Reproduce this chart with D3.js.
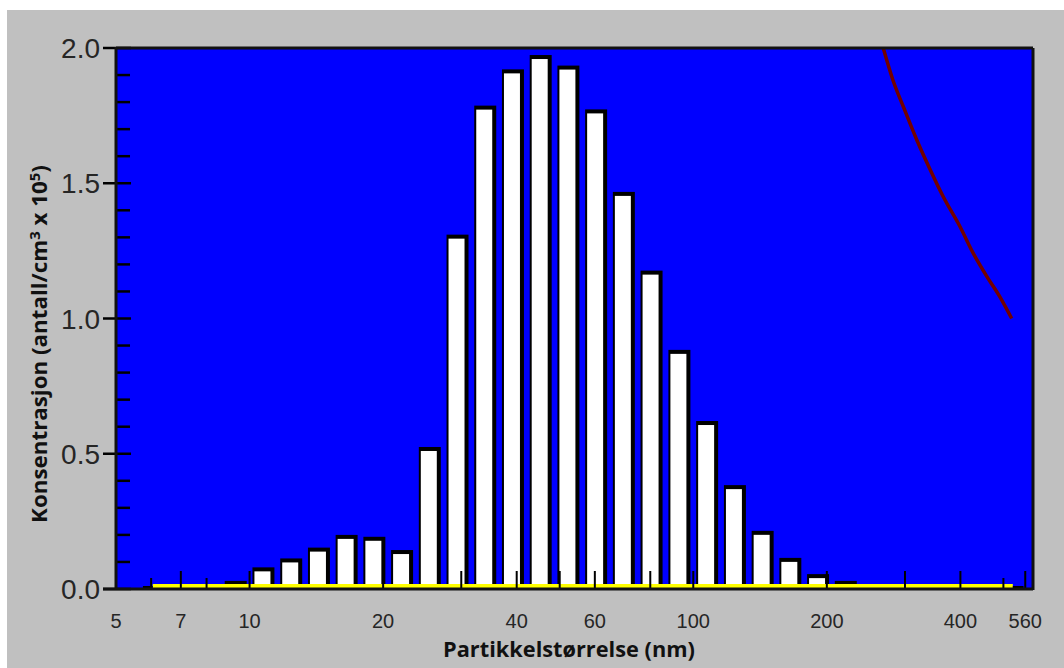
<!DOCTYPE html>
<html>
<head>
<meta charset="utf-8">
<script src="https://cdn.jsdelivr.net/npm/d3@7"></script>
<style>
  html, body { margin: 0; padding: 0; background: #ffffff; }
  svg { display: block; }
</style>
</head>
<body>
<svg id="chart" width="1064" height="668"></svg>
<script>
// Particle size distribution: bin centres (nm) and concentrations (antall/cm3 x 10^5)
const binCenters = [9.306, 10.746, 12.413, 14.334, 16.548, 19.110, 22.067, 25.481, 29.423,
  33.974, 39.230, 45.303, 52.311, 60.405, 69.751, 80.541, 93.057, 107.46, 124.13,
  143.34, 165.48, 191.10, 220.67];
const concentration = [0.03, 0.08, 0.113, 0.153, 0.20, 0.193, 0.144, 0.525, 1.31,
  1.787, 1.921, 1.974, 1.935, 1.773, 1.468, 1.177, 0.884, 0.621, 0.384,
  0.215, 0.115, 0.055, 0.03];

// Dark red reference curve (size nm, value)
const curveSize  = [268, 282, 298, 319, 342, 366, 399, 428, 459, 491, 522];
const curveValue = [2.00, 1.88, 1.78, 1.66, 1.55, 1.45, 1.34, 1.24, 1.155, 1.08, 1.00];

// Yellow baseline series and its dark end pieces
const baselineSize  = [6.05, 525];
const baselineValue = [0.011, 0.011];
const baselineEnds  = [[5.75, 6.05], [525, 555]];

// Axis ticks and labels
const xTicksLong  = [7, 10, 20, 30, 40, 50, 60, 80, 100, 200, 300, 400, 560];
const xTicksShort = [6, 8, 500];
const xLabels     = [5, 7, 10, 20, 40, 60, 100, 200, 400, 560];
const yMajor      = [0, 0.5, 1.0, 1.5, 2.0];
const yMinor      = [0.1, 0.2, 0.3, 0.4, 0.6, 0.7, 0.8, 0.9, 1.1, 1.2, 1.3, 1.4, 1.6, 1.7, 1.8, 1.9];

const xTitle = "Partikkelstørrelse (nm)";

const svg = d3.select("#chart");
const W = 1064, H = 668;
const plot = { left: 116, right: 1033, top: 48, bottom: 589 };

const x = d3.scaleLog().domain([5, 583]).range([plot.left, plot.right]);
const y = d3.scaleLinear().domain([0, 2]).range([plot.bottom, plot.top]);

// window background
svg.append("rect").attr("x", 7).attr("y", 10).attr("width", W - 7).attr("height", H - 10)
  .attr("fill", "#c0c0c0");

// plot area
svg.append("rect")
  .attr("x", plot.left).attr("y", plot.top)
  .attr("width", plot.right - plot.left).attr("height", plot.bottom - plot.top)
  .attr("fill", "#0000ff");

svg.append("clipPath").attr("id", "plotClip")
  .append("rect")
  .attr("x", plot.left).attr("y", plot.top)
  .attr("width", plot.right - plot.left).attr("height", plot.bottom - plot.top);

// bars: half-width expressed as a ratio on the log axis
const halfRatio = 1.0587;
const bars = svg.append("g").attr("clip-path", "url(#plotClip)");
binCenters.forEach((c, i) => {
  const v = concentration[i];
  const x0 = x(c / halfRatio), x1 = x(c * halfRatio);
  const yt = y(v), yb = y(0);
  bars.append("rect")
    .attr("x", x0).attr("y", yt).attr("width", x1 - x0).attr("height", yb - yt)
    .attr("fill", "#000000");
  const iw = (x1 - x0) - 6, ih = (yb - yt) - 4;
  if (iw > 0 && ih > 0) {
    bars.append("rect")
      .attr("x", x0 + 2).attr("y", yt + 4).attr("width", iw).attr("height", ih)
      .attr("fill", "#ffffff");
  }
});

// yellow baseline series
const baseLine = d3.line().x(d => x(d[0])).y(d => y(d[1]));
svg.append("path")
  .attr("d", baseLine(baselineSize.map((s, i) => [s, baselineValue[i]])))
  .attr("stroke", "#ffff00").attr("stroke-width", 4).attr("fill", "none");
baselineEnds.forEach(seg => {
  svg.append("line")
    .attr("x1", x(seg[0])).attr("x2", x(seg[1]))
    .attr("y1", y(0) - 1.5).attr("y2", y(0) - 1.5)
    .attr("stroke", "#000000").attr("stroke-width", 3);
});

// x ticks, pointing up into the plot
const xt = svg.append("g");
xTicksLong.forEach(v => {
  xt.append("line").attr("x1", x(v)).attr("x2", x(v))
    .attr("y1", plot.bottom).attr("y2", plot.bottom - 18)
    .attr("stroke", "#000").attr("stroke-width", 2);
});
xTicksShort.forEach(v => {
  xt.append("line").attr("x1", x(v)).attr("x2", x(v))
    .attr("y1", plot.bottom).attr("y2", plot.bottom - 11)
    .attr("stroke", "#000").attr("stroke-width", 2);
});

// dark red curve
const curveLine = d3.line().x(d => x(d[0])).y(d => y(d[1])).curve(d3.curveMonotoneX);
svg.append("path")
  .attr("clip-path", "url(#plotClip)")
  .attr("d", curveLine(curveSize.map((s, i) => [s, curveValue[i]])))
  .attr("stroke", "#720000").attr("stroke-width", 3.5).attr("fill", "none");

// y ticks
const yt = svg.append("g");
yMinor.forEach(v => {
  yt.append("line").attr("x1", plot.left).attr("x2", plot.left + 14)
    .attr("y1", y(v)).attr("y2", y(v))
    .attr("stroke", "#000").attr("stroke-width", 2.5);
});
yMajor.forEach(v => {
  yt.append("line").attr("x1", plot.left - 13).attr("x2", plot.left + 15)
    .attr("y1", y(v)).attr("y2", y(v))
    .attr("stroke", "#000").attr("stroke-width", 2.5);
});

// frame
const frame = svg.append("g").attr("stroke", "#111").attr("stroke-width", 3).attr("fill", "none");
frame.append("line").attr("x1", plot.left).attr("x2", plot.right).attr("y1", plot.top).attr("y2", plot.top);
frame.append("line").attr("x1", plot.right).attr("x2", plot.right).attr("y1", plot.top).attr("y2", plot.bottom + 1);
frame.append("line").attr("x1", plot.left).attr("x2", plot.left).attr("y1", plot.top - 1).attr("y2", plot.bottom + 1);
frame.append("line").attr("x1", plot.left - 13).attr("x2", plot.right).attr("y1", plot.bottom).attr("y2", plot.bottom);

// tick labels
const yFmt = d3.format(".1f");
svg.append("g").selectAll("text").data(yMajor).join("text")
  .attr("x", 100).attr("y", d => y(d) + 10)
  .attr("text-anchor", "end")
  .attr("font-family", "'Liberation Sans', Arial, sans-serif")
  .attr("font-size", 28).attr("fill", "#262626")
  .text(d => yFmt(d));

svg.append("g").selectAll("text").data(xLabels).join("text")
  .attr("x", d => x(d)).attr("y", 628)
  .attr("text-anchor", "middle")
  .attr("font-family", "'Liberation Sans', Arial, sans-serif")
  .attr("font-size", 20).attr("fill", "#262626")
  .text(d => d);

// axis titles, fitted to their widths
function fitWidth(sel, target) {
  const w = sel.node().getComputedTextLength();
  return target / w;
}

const xt1 = svg.append("text")
  .attr("text-anchor", "middle")
  .attr("font-family", "'Open Sans', sans-serif").attr("font-weight", "bold")
  .attr("font-size", 21).attr("fill", "#111")
  .text(xTitle);
const sx1 = fitWidth(xt1, 252);
xt1.attr("transform", `translate(569,657) scale(${sx1},1)`);

const yt1 = svg.append("text")
  .attr("text-anchor", "middle")
  .attr("font-family", "'Open Sans', sans-serif").attr("font-weight", "bold")
  .attr("font-size", 21).attr("fill", "#111");
yt1.append("tspan").text("Konsentrasjon (antall/cm");
yt1.append("tspan").attr("dy", -7).attr("font-size", 14).text("3");
yt1.append("tspan").attr("dy", 7).text(" x 10");
yt1.append("tspan").attr("dy", -7).attr("font-size", 14).text("5");
yt1.append("tspan").attr("dy", 7).text(")");
const sy1 = fitWidth(yt1, 358);
yt1.attr("transform", `translate(47,344) rotate(-90) scale(${sy1},1)`);
</script>
</body>
</html>
